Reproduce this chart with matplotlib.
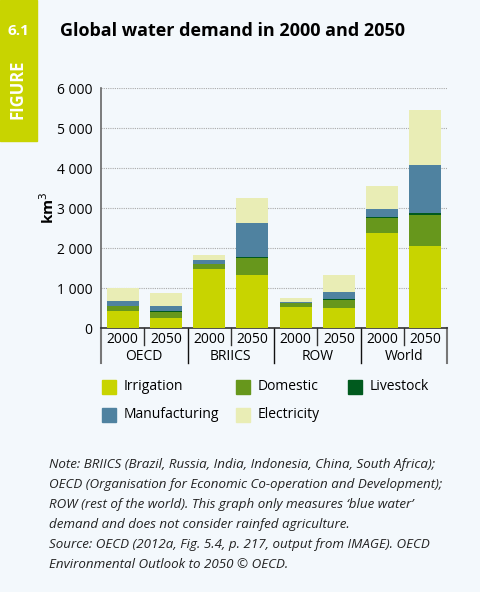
import matplotlib.pyplot as plt
import numpy as np
from matplotlib.patches import Rectangle

# data (km3)
regions = ['OECD', 'BRIICS', 'ROW', 'World']
years = ['2000', '2050']
irrigation = [420, 240, 1470, 1320, 535, 510, 2385, 2060]
domestic = [130, 165, 120, 440, 80, 180, 355, 775]
livestock = [10, 10, 10, 25, 20, 25, 25, 50]
manufacturing = [110, 145, 110, 850, 25, 190, 220, 1200]
electricity = [320, 325, 125, 625, 95, 425, 575, 1375]

series = [
    ('Irrigation', irrigation, '#c8d400'),
    ('Domestic', domestic, '#67971c'),
    ('Livestock', livestock, '#005a1e'),
    ('Manufacturing', manufacturing, '#4f82a0'),
    ('Electricity', electricity, '#e9edb5'),
]

bg = '#f3f8fc'
plt.rcParams['font.family'] = ['Open Sans', 'DejaVu Sans']

fig = plt.figure(figsize=(4.8, 5.92), dpi=100, facecolor=bg)

# side tab
fig.patches.append(Rectangle((0, 1 - 141 / 592), 37 / 480, 141 / 592,
                             transform=fig.transFigure, color='#c8d400', zorder=0))
fig.text(18 / 480, 1 - 31 / 592, '6.1', color='white', fontsize=11, fontweight='bold',
         ha='center', va='center')
fig.text(18 / 480, 1 - 89 / 592, 'FIGURE', color='white', fontsize=12, fontweight='bold',
         ha='center', va='center', rotation=90)
fig.text(60 / 480, 1 - 31 / 592, 'Global water demand in 2000 and 2050', fontsize=13,
         fontweight='bold', ha='left', va='center')

ax = fig.add_axes([101 / 480, 1 - 328 / 592, 346 / 480, 240 / 592])
ax.set_facecolor(bg)

x = np.arange(len(irrigation))
bottom = np.zeros(len(x))
for name, vals, col in series:
    ax.bar(x, vals, width=0.745, bottom=bottom, color=col, label=name, zorder=3)
    bottom += np.array(vals)

ax.set_xlim(-0.5, 7.5)
ax.set_ylim(0, 6000)
ax.set_yticks(range(0, 6001, 1000))
ax.set_yticklabels(['0'] + ['{} 000'.format(v) for v in range(1, 7)], fontsize=10)
ax.tick_params(axis='y', length=0, pad=6)
ax.set_xticks([])
ax.grid(axis='y', linestyle=(0, (1, 1)), color='#aaaaaa', linewidth=0.8, zorder=0)
for s in ['top', 'right']:
    ax.spines[s].set_visible(False)
ax.spines['left'].set_color('#666666')
ax.spines['left'].set_linewidth(1.2)
ax.spines['bottom'].set_color('#333333')
ax.spines['bottom'].set_linewidth(1.2)
ax.set_ylabel('km$^3$', fontsize=11, fontweight='bold', labelpad=0)

# category axis below
tr = ax.get_xaxis_transform()
for i in x:
    ax.text(i, -0.046, years[i % 2], transform=tr, ha='center', va='center', fontsize=10)
for j, r in enumerate(regions):
    ax.text(2 * j + 0.5, -0.117, r, transform=tr, ha='center', va='center', fontsize=10)
for p in [0.5, 2.5, 4.5, 6.5]:
    ax.plot([p, p], [0, -0.07], transform=tr, color='#333333', lw=1, clip_on=False)
for p in [1.5, 3.5, 5.5]:
    ax.plot([p, p], [0, -0.146], transform=tr, color='#111111', lw=1, clip_on=False)
for p in [-0.5, 7.5]:
    ax.plot([p, p], [0, -0.146], transform=tr, color='#777777', lw=1.5, clip_on=False)

# legend, laid out by hand in pixel positions
leg_pos = {'Irrigation': (102, 387), 'Domestic': (236, 387), 'Livestock': (348, 387),
           'Manufacturing': (102, 415), 'Electricity': (236, 415)}
for name, vals, col in series:
    px, py = leg_pos[name]
    fig.patches.append(Rectangle((px / 480, 1 - (py + 7) / 592), 14 / 480, 14 / 592,
                                 transform=fig.transFigure, color=col))
    fig.text((px + 22) / 480, 1 - py / 592, name, fontsize=10, ha='left', va='center')

note = ("Note: BRIICS (Brazil, Russia, India, Indonesia, China, South Africa);\n"
        "OECD (Organisation for Economic Co-operation and Development);\n"
        "ROW (rest of the world). This graph only measures \u2018blue water\u2019\n"
        "demand and does not consider rainfed agriculture.\n"
        "Source: OECD (2012a, Fig. 5.4, p. 217, output from IMAGE). OECD\n"
        "Environmental Outlook to 2050 \u00a9 OECD.")
fig.text(49 / 480, 1 - 458 / 592, note, fontsize=9.6, style='italic', ha='left', va='top',
         linespacing=1.7, color='#222222')

fig.savefig('out.png', dpi=100, facecolor=bg)
